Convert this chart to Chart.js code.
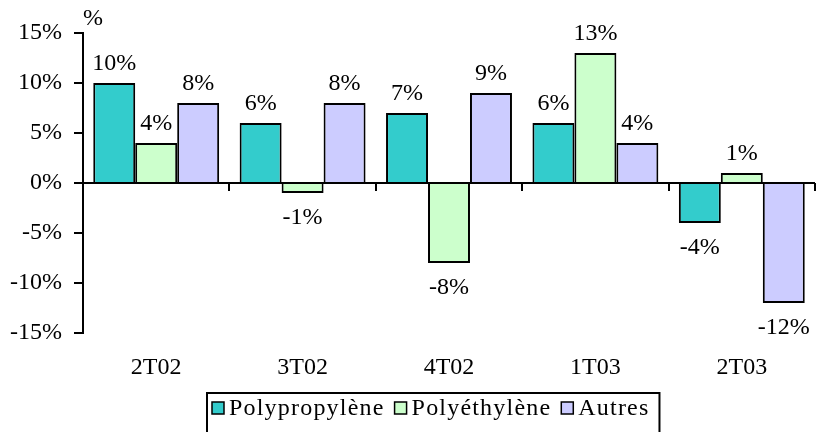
<!DOCTYPE html>
<html>
<head>
<meta charset="utf-8">
<script src="https://cdn.jsdelivr.net/npm/chart.js@4"></script>
<style>
  html, body { margin: 0; padding: 0; background: #fff; }
  #wrap { width: 816px; height: 432px; }
</style>
</head>
<body>
<div id="wrap"><canvas id="c" width="816" height="432"></canvas></div>
<script>
// Quarterly change, by resin family
const quarters = ['2T02', '3T02', '4T02', '1T03', '2T03'];
const polypropylene = [10, 6, 7, 6, -4];
const polyethylene = [4, -1, -8, 13, 1];
const autres = [8, 8, 9, 4, -12];
const yTicks = [-15, -10, -5, 0, 5, 10, 15];
const seriesNames = ['Polypropylène', 'Polyéthylène', 'Autres'];
const seriesColors = ['#33CCCC', '#CCFFCC', '#CCCCFF'];

const FONT = "'Liberation Serif', 'Times New Roman', serif";
const SIZE = 24;
const pct = v => v + '%';

// Horizontal axis drawn along the zero line, with category separators hanging below
const zeroAxis = {
  id: 'zeroAxis',
  afterDatasetsDraw(chart) {
    const { ctx, chartArea, scales } = chart;
    const y0 = scales.y.getPixelForValue(0);
    const n = quarters.length;
    const w = (chartArea.right - chartArea.left) / n;
    ctx.save();
    ctx.strokeStyle = '#000';
    ctx.lineWidth = 2;
    ctx.beginPath();
    ctx.moveTo(chartArea.left, y0);
    ctx.lineTo(chartArea.right, y0);
    for (let k = 1; k <= n; k++) {
      const x = Math.round(chartArea.left + k * w);
      ctx.moveTo(x, y0);
      ctx.lineTo(x, y0 + 8);
    }
    ctx.stroke();
    ctx.restore();
  }
};

// Value labels above positive bars and below negative ones
const valueLabels = {
  id: 'valueLabels',
  afterDatasetsDraw(chart) {
    const { ctx } = chart;
    ctx.save();
    ctx.font = SIZE + 'px ' + FONT;
    ctx.fillStyle = '#000';
    ctx.textAlign = 'center';
    ctx.textBaseline = 'middle';
    chart.data.datasets.forEach((ds, di) => {
      const meta = chart.getDatasetMeta(di);
      meta.data.forEach((bar, i) => {
        const v = ds.data[i];
        const y = v >= 0 ? bar.y - 19 : bar.y + 25;
        ctx.fillText(pct(v), bar.x, y);
      });
    });
    // unit marker above the value axis
    ctx.fillText('%', 93, 19);
    ctx.restore();
  }
};

// Boxed legend under the category labels
const boxLegend = {
  id: 'boxLegend',
  afterDraw(chart) {
    const { ctx } = chart;
    ctx.save();
    ctx.font = SIZE + 'px ' + FONT;
    ctx.letterSpacing = '1.2px';
    ctx.textBaseline = 'middle';
    ctx.textAlign = 'left';
    let x = 212;
    const cy = 408;
    chart.data.datasets.forEach((ds) => {
      ctx.fillStyle = ds.backgroundColor;
      ctx.fillRect(x, cy - 6, 12, 12);
      ctx.strokeStyle = '#000';
      ctx.lineWidth = 1.5;
      ctx.strokeRect(x, cy - 6, 12, 12);
      ctx.fillStyle = '#000';
      ctx.fillText(ds.label, x + 17, cy + 1);
      x += 17 + ctx.measureText(ds.label).width + 10;
    });
    ctx.strokeStyle = '#000';
    ctx.lineWidth = 2;
    ctx.strokeRect(207, 393, x - 207, 60);
    ctx.restore();
  }
};

new Chart(document.getElementById('c'), {
  type: 'bar',
  data: {
    labels: quarters,
    datasets: [
      { label: seriesNames[0], data: polypropylene, backgroundColor: seriesColors[0] },
      { label: seriesNames[1], data: polyethylene, backgroundColor: seriesColors[1] },
      { label: seriesNames[2], data: autres, backgroundColor: seriesColors[2] }
    ].map(d => Object.assign(d, {
      borderColor: '#000',
      borderWidth: 2,
      borderSkipped: 'start',
      categoryPercentage: 0.86,
      barPercentage: 1
    }))
  },
  options: {
    responsive: false,
    animation: false,
    layout: { padding: { top: 33, right: 1, left: 0, bottom: 0 } },
    plugins: {
      legend: { display: false },
      tooltip: { enabled: false }
    },
    scales: {
      x: {
        position: 'bottom',
        grid: { display: false, drawTicks: false },
        border: { display: false },
        ticks: { color: '#000', font: { family: FONT, size: SIZE }, padding: 20, maxRotation: 0 },
        afterFit(s) { s.height = 99; }
      },
      y: {
        min: -15,
        max: 15,
        afterBuildTicks(s) { s.ticks = yTicks.map(v => ({ value: v })); },
        grid: { display: true, drawOnChartArea: false, drawTicks: true, tickLength: 9, color: '#000', lineWidth: 2 },
        border: { display: true, color: '#000', width: 2 },
        ticks: { color: '#000', font: { family: FONT, size: SIZE }, padding: 12, callback: v => pct(v) },
        afterFit(s) { s.width = 83; }
      }
    }
  },
  plugins: [zeroAxis, valueLabels, boxLegend]
});
</script>
</body>
</html>
